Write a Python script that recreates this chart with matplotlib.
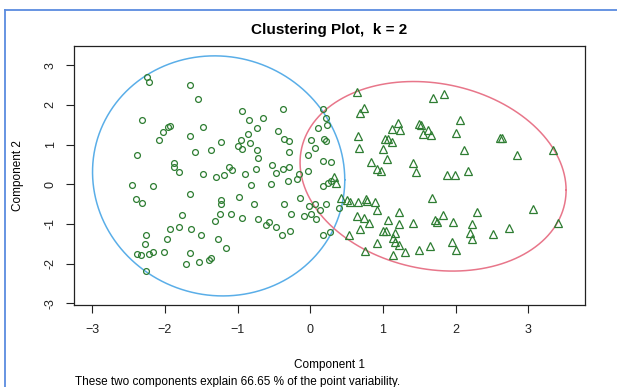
import matplotlib
matplotlib.use('Agg')
import matplotlib.pyplot as plt
import numpy as np

plt.rcParams['font.family'] = ['Liberation Sans', 'DejaVu Sans']

# cluster 1 (circles)
c1_x = [-2.24, -2.22, -1.66, -1.54, -2.31, -0.94, -0.38, -0.84, -0.65, -0.73,
        -2.02, -1.96, -1.93, -2.08, -1.47, -1.66, -0.44, -0.86, -0.95, -0.99,
        -0.94, -0.83, -1.23, -1.36, -1.59, -0.73, -0.72, -0.36, -0.29, -0.29,
        -2.39, -1.87, -1.87, -1.81, -1.47, -1.29, -1.19, -1.12, -1.07, -0.90,
        -0.75, -0.53, -0.47, -0.37, -0.29, -2.45, -2.16, -0.82, -0.54, -0.31,
        -0.18, -0.15, -1.65, -2.40, -2.31, -1.23, -1.23, -0.98, -0.77, -0.36,
        -0.14, -1.76, -1.24, -1.09, -1.31, -0.94, -0.72, -0.61, -0.57, -0.47,
        -0.26, -1.93, -1.80, -1.64, -1.50, -2.26, -2.27, -1.97, -1.27, -1.16,
        -0.39, -0.28, -2.39, -2.33, -2.22, -2.16, -2.01, -1.66, -1.53, -1.39,
        -1.37, -1.71, -2.26, 0.18, 0.22, 0.23, 0.10, 0.01, 0.19, 0.21,
        0.06, -0.03, 0.17, 0.29, -0.03, 0.17, 0.25, 0.28, -0.02, 0.06,
        0.13, 0.21, 0.39, -0.09, 0.01, 0.08, 0.18, 0.27]
c1_y = [2.71, 2.57, 2.51, 2.15, 1.62, 1.85, 1.89, 1.62, 1.66, 1.42,
        1.31, 1.44, 1.47, 1.12, 1.44, 1.22, 1.34, 1.27, 1.12, 0.97,
        0.88, 1.05, 1.07, 0.85, 0.80, 0.85, 0.66, 1.14, 1.09, 0.82,
        0.73, 0.54, 0.44, 0.31, 0.26, 0.18, 0.23, 0.44, 0.36, 0.26,
        0.38, 0.48, 0.29, 0.38, 0.44, -0.03, -0.04, -0.03, 0.00, 0.08,
        0.13, 0.26, -0.24, -0.38, -0.47, -0.40, -0.51, -0.31, -0.50, -0.49,
        -0.34, -0.77, -0.74, -0.74, -0.92, -0.85, -0.87, -1.02, -0.95, -1.08,
        -0.74, -1.13, -1.08, -1.12, -1.29, -1.28, -1.50, -1.39, -1.39, -1.60,
        -1.28, -1.18, -1.76, -1.78, -1.76, -1.71, -1.71, -1.72, -1.95, -1.91,
        -1.85, -2.02, -2.19, 1.89, 1.67, 1.50, 1.41, 1.12, 1.15, 1.10,
        0.92, 0.73, 0.59, 0.57, 0.33, -0.04, 0.03, 0.07, -0.54, -0.51,
        -0.65, -0.49, -0.60, -0.80, -0.75, -0.88, -1.28, -1.19]

# cluster 2 (triangles)
c2_x = [0.64, 0.74, 0.69, 1.69, 1.84, 2.06, 2.01, 1.21, 1.13, 1.24,
        1.49, 1.52, 1.55, 1.62, 1.66, 0.66, 1.03, 1.07, 1.12, 2.61,
        2.64, 0.67, 1.00, 2.12, 2.84, 3.34, 0.84, 1.06, 0.92, 0.98,
        1.41, 1.46, 1.88, 1.99, 2.17, 0.33, 0.36, 0.43, 0.50, 0.55,
        0.66, 0.77, 0.78, 0.89, 0.92, 1.67, 0.64, 0.74, 0.81, 1.07,
        1.22, 1.22, 1.42, 1.72, 1.74, 1.82, 1.97, 2.29, 2.22, 3.07,
        3.41, 2.73, 2.52, 2.20, 2.22, 0.68, 0.54, 1.00, 1.04, 1.17,
        1.14, 1.16, 1.22, 0.92, 0.75, 1.14, 1.31, 1.49, 1.65, 1.95,
        2.01]
c2_y = [2.33, 1.91, 1.79, 2.18, 2.27, 1.62, 1.28, 1.54, 1.39, 1.36,
        1.51, 1.48, 1.27, 1.37, 1.23, 1.22, 1.14, 1.14, 1.07, 1.17,
        1.17, 0.91, 0.88, 0.85, 0.74, 0.86, 0.57, 0.64, 0.39, 0.33,
        0.53, 0.31, 0.24, 0.24, 0.34, 0.19, 0.03, -0.34, -0.40, -0.45,
        -0.45, -0.38, -0.42, -0.44, -0.65, -0.35, -0.79, -0.84, -0.97, -0.90,
        -0.69, -1.00, -0.97, -0.90, -0.95, -0.77, -0.94, -0.69, -0.99, -0.62,
        -0.97, -1.09, -1.26, -1.23, -1.37, -1.13, -1.28, -1.17, -1.18, -1.23,
        -1.36, -1.46, -1.53, -1.49, -1.68, -1.78, -1.70, -1.65, -1.55, -1.45,
        -1.65]

# cluster ellipses: centre x, centre y, half width, half height, shear
ell_params = [(-1.26, 0.21, 1.735, 3.02, -0.10),
              (1.69, 0.20, 1.83, 2.36, -0.35)]
ell_colors = ['#5aaee8', '#e8768a']

x_ticks = [-3, -2, -1, 0, 1, 2, 3]
y_ticks = [-3, -2, -1, 0, 1, 2, 3]

fig = plt.figure(figsize=(6.17, 3.87), dpi=100)
ax = fig.add_axes([74/617, 1-305/387, 511/617, 259/387])

t = np.linspace(0, 2*np.pi, 300)
for (cx, cy, a, b, c), col in zip(ell_params, ell_colors):
    ax.plot(cx + a*np.cos(t), cy + b*np.sin(t) + c*np.cos(t), color=col, lw=1.1)

green = '#2e7d32'
ax.plot(c1_x, c1_y, 'o', ms=4.2, mfc='none', mec=green, mew=0.9)
ax.plot(c2_x, c2_y, '^', ms=6.4, mfc='none', mec=green, mew=0.9)

ax.set_xlim(-3.25, 3.78)
ax.set_ylim(-3.04, 3.48)
ax.set_xticks(x_ticks)
ax.set_yticks(y_ticks)
ax.set_yticklabels([str(v) for v in y_ticks], rotation=90, va='center')
ax.tick_params(direction='out', length=5.5, width=0.8, labelsize=9, colors='#222222')
ax.tick_params(axis='x', pad=8.5)
ax.tick_params(axis='y', pad=7)
for s in ax.spines.values():
    s.set_linewidth(0.9)
    s.set_color('#222222')

ax.set_title('Clustering Plot,  k = 2', fontsize=11, fontweight='bold', pad=8.5)
ax.set_xlabel('Component 1', fontsize=8.5, labelpad=16.5)
ax.set_ylabel('Component 2', fontsize=8.5, labelpad=15)
fig.text(75/617, 1-382/387, 'These two components explain 66.65 % of the point variability.',
         fontsize=8.5, ha='left', va='center')

# window border
fig.add_artist(plt.Line2D([4.5/617, 4.5/617], [0, 1-9.5/387], color='#5b8bdf', lw=1.3))
fig.add_artist(plt.Line2D([4.5/617, 1], [1-9.5/387, 1-9.5/387], color='#5b8bdf', lw=1.3))

plt.savefig('out.png', dpi=100)
